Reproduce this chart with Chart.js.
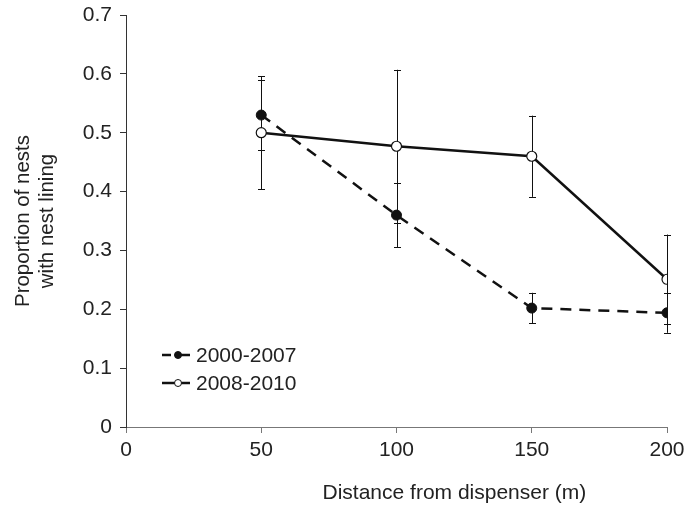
<!DOCTYPE html>
<html><head><meta charset="utf-8">
<script src="https://cdn.jsdelivr.net/npm/chart.js@4/dist/chart.umd.min.js"></script>
<style>html,body{margin:0;padding:0;background:#fff}#wrap{width:686px;height:507px}</style>
</head><body><div id="wrap"><canvas id="c" width="686" height="507"></canvas></div>
<script>
// ---- data ----
const distances = [50, 100, 150, 200];
const series1Label = '2000-2007';
const series1Values = [0.530, 0.360, 0.202, 0.194];
const series1Err = [0.060, 0.055, 0.026, 0.034];
const series2Label = '2008-2010';
const series2Values = [0.500, 0.477, 0.460, 0.251];
const series2Err = [0.096, 0.130, 0.069, 0.076];
const xTicks = [0, 50, 100, 150, 200];
const yTicks = [0, 0.1, 0.2, 0.3, 0.4, 0.5, 0.6, 0.7];
const xTitle = 'Distance from dispenser (m)';
const yTitle = ['Proportion of nests', 'with nest lining'];

const FONT = '"Liberation Sans", Arial, sans-serif';
const TXT = '#222';

const toPts = (vals) => distances.map((d, i) => ({ x: d, y: vals[i] }));

const errorBars = {
  id: 'errorBars',
  beforeDatasetsDraw(chart) {
    const { ctx, scales: { x, y } } = chart;
    ctx.save();
    ctx.strokeStyle = '#111';
    ctx.lineWidth = 1;
    chart.data.datasets.forEach(ds => {
      ds.data.forEach((p, i) => {
        const e = ds.errors[i];
        const px = Math.round(x.getPixelForValue(p.x)) + 0.5;
        const y1 = y.getPixelForValue(p.y + e);
        const y2 = y.getPixelForValue(p.y - e);
        ctx.beginPath();
        ctx.moveTo(px, y1); ctx.lineTo(px, y2);
        ctx.moveTo(px - 3.5, Math.round(y1) + 0.5); ctx.lineTo(px + 3.5, Math.round(y1) + 0.5);
        ctx.moveTo(px - 3.5, Math.round(y2) + 0.5); ctx.lineTo(px + 3.5, Math.round(y2) + 0.5);
        ctx.stroke();
      });
    });
    ctx.restore();
  }
};

const customText = {
  id: 'customText',
  afterDraw(chart) {
    const { ctx, chartArea: a } = chart;
    ctx.save();
    // x-axis title
    ctx.fillStyle = TXT;
    ctx.font = '21px ' + FONT;
    ctx.textAlign = 'center';
    ctx.textBaseline = 'middle';
    ctx.fillText(xTitle, a.left + 0.607 * (a.right - a.left), 493);
    // legend
    const lx = a.left + 36, ly0 = a.bottom - 72, gap = 28;
    chart.data.datasets.forEach((ds, i) => {
      const ly = ly0 + i * gap;
      ctx.strokeStyle = '#111';
      ctx.lineWidth = 2.5;
      ctx.setLineDash([]);
      ctx.beginPath();
      if (ds.borderDash && ds.borderDash.length) {
        ctx.moveTo(lx, ly); ctx.lineTo(lx + 9, ly);
        ctx.moveTo(lx + 19, ly); ctx.lineTo(lx + 28, ly);
      } else {
        ctx.moveTo(lx, ly); ctx.lineTo(lx + 28, ly);
      }
      ctx.stroke();
      ctx.beginPath();
      ctx.arc(lx + 16, ly, 3.5, 0, Math.PI * 2);
      ctx.fillStyle = ds.pointBackgroundColor;
      ctx.fill();
      ctx.lineWidth = 1;
      ctx.stroke();
      ctx.fillStyle = TXT;
      ctx.textAlign = 'left';
      ctx.font = '21px ' + FONT;
      ctx.fillText(ds.label, lx + 34, ly + 1);
    });
    ctx.restore();
  }
};

new Chart(document.getElementById('c'), {
  type: 'line',
  data: {
    datasets: [
      {
        label: series1Label, data: toPts(series1Values), errors: series1Err,
        borderColor: '#111', borderWidth: 2.5, borderDash: [11, 8],
        pointRadius: 5, pointBackgroundColor: '#111', pointBorderColor: '#111', pointBorderWidth: 1,
        fill: false, tension: 0
      },
      {
        label: series2Label, data: toPts(series2Values), errors: series2Err,
        borderColor: '#111', borderWidth: 2.5,
        pointRadius: 5, pointBackgroundColor: '#fff', pointBorderColor: '#111', pointBorderWidth: 1.2,
        fill: false, tension: 0
      }
    ]
  },
  options: {
    responsive: false,
    animation: false,
    devicePixelRatio: 1,
    layout: { padding: { left: 0, right: 19, top: 15, bottom: 0 } },
    plugins: { legend: { display: false }, tooltip: { enabled: false } },
    scales: {
      x: {
        type: 'linear', min: 0, max: 200,
        afterBuildTicks: (s) => { s.ticks = xTicks.map(v => ({ value: v })); },
        afterFit: (s) => { s.height = 80; s.paddingLeft = 0; s.paddingRight = 0; },
        grid: { display: true, drawOnChartArea: false, drawTicks: true, tickLength: 6, color: '#777', lineWidth: 1 },
        border: { display: true, color: '#777', width: 1 },
        ticks: { color: TXT, font: { family: FONT, size: 21 }, padding: 5, maxRotation: 0 }
      },
      y: {
        type: 'linear', min: 0, max: 0.7,
        afterBuildTicks: (s) => { s.ticks = yTicks.map(v => ({ value: v })); },
        afterFit: (s) => { s.width = 126; s.paddingTop = 0; s.paddingBottom = 0; },
        grid: { display: true, drawOnChartArea: false, drawTicks: true, tickLength: 6, color: '#333', lineWidth: 1 },
        border: { display: true, color: '#333', width: 1 },
        ticks: { color: TXT, font: { family: FONT, size: 21 }, padding: 8,
          callback: (v) => v === 0 ? '0' : v.toFixed(1) },
        title: { display: true, text: yTitle, color: TXT, font: { family: FONT, size: 20.5, lineHeight: 1.17 }, padding: { top: 11, bottom: 0 } }
      }
    }
  },
  plugins: [errorBars, customText]
});
</script>
</body></html>
